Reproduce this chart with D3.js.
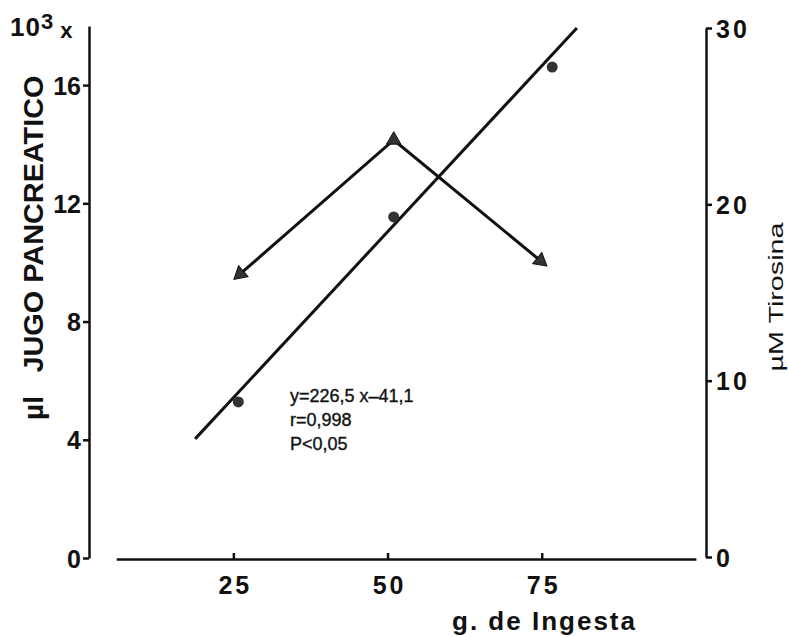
<!DOCTYPE html>
<html>
<head>
<meta charset="utf-8">
<script src="https://cdn.jsdelivr.net/npm/d3@7"></script>
<style>
  body { margin: 0; background: #fff; }
  svg { display: block; font-family: "Liberation Sans", Arial, Helvetica, sans-serif; }
  .axis path, .axis line { stroke: #111; stroke-width: 2.5px; }
  .axis text { fill: #111; font-weight: bold; font-size: 25px; }
</style>
</head>
<body>
<script>
const w = 788;
const h = 637;

// g. de Ingesta vs µl jugo pancreático (x10^3), circles
const ingesta = [25.8, 51.0, 76.7];
const jugo = [5.28, 11.54, 16.61];

// regression line drawn on the figure (ends)
const regIngesta = [18.8, 80.7];
const regJugo = [4.03, 17.93];

// µM tirosina, triangles
const tirIngesta = [26.1, 51.0, 74.8];
const tirosina = [16.05, 23.65, 16.8];

const xTicks = [25, 50, 75];
const leftTicks = [0, 4, 8, 12, 16];
const rightTicks = [0, 10, 20, 30];
const notes = ["y=226,5 x\u201341,1", "r=0,998", "P<0,05"];

const svg = d3.select("body").append("svg").attr("width", w).attr("height", h);

const xScale = d3.scaleLinear().domain([6, 100]).range([116.2, 695.9]);
const yLeft = d3.scaleLinear().domain([0, 18]).range([558, 26]);
const yRight = d3.scaleLinear().domain([0, 30]).range([557, 28]);

// left axis
const leftAxis = d3.axisLeft(yLeft).tickValues(leftTicks).tickSize(6).tickSizeOuter(0).tickPadding(2);
const gl = svg.append("g").attr("class", "axis").attr("transform", "translate(89,0)").call(leftAxis);
gl.selectAll("text").attr("dy", "0.36em");

// right axis
const rightAxis = d3.axisRight(yRight).tickValues(rightTicks).tickSize(6).tickSizeOuter(0).tickPadding(4);
const gr = svg.append("g").attr("class", "axis").attr("transform", "translate(706,0)").call(rightAxis);
gr.selectAll("text").attr("dy", "0.36em").style("font-size", "25px").style("letter-spacing", "3px");

// bottom axis, ticks pointing up
const xAxis = d3.axisBottom(xScale).tickValues(xTicks).tickSize(-6).tickSizeOuter(0).tickPadding(17);
const gx = svg.append("g").attr("class", "axis").attr("transform", "translate(0,559)").call(xAxis);
gx.selectAll("text").style("letter-spacing", "3px").attr("dx", 1.5);

// axis titles
svg.append("text")
  .attr("transform", "translate(43,224) rotate(-90)")
  .attr("text-anchor", "middle")
  .style("font-size", "28px").style("font-weight", "bold").attr("fill", "#111")
  .attr("textLength", 297).attr("lengthAdjust", "spacingAndGlyphs")
  .text("JUGO PANCREATICO");
svg.append("text")
  .attr("transform", "translate(43,408) rotate(-90)")
  .attr("text-anchor", "middle")
  .style("font-size", "28px").style("font-weight", "bold").attr("fill", "#111")
  .text("\u00b5l");

const unitLabel = svg.append("text").attr("x", 10).attr("y", 36).attr("fill", "#111").style("font-weight", "bold");
unitLabel.append("tspan").style("font-size", "26px").style("letter-spacing", "1px").text("10");
unitLabel.append("tspan").attr("dy", -7).style("font-size", "22px").text("3");
unitLabel.append("tspan").attr("dx", 7).attr("dy", 9).style("font-size", "22px").text("x");

svg.append("text")
  .attr("transform", "translate(783,297) rotate(-90)")
  .attr("text-anchor", "middle")
  .style("font-size", "21px").attr("fill", "#111")
  .attr("textLength", 149).attr("lengthAdjust", "spacingAndGlyphs")
  .text("\u00b5M Tirosina");

svg.append("text")
  .attr("x", 635).attr("y", 630)
  .attr("text-anchor", "end")
  .style("font-size", "26px").style("font-weight", "bold").attr("fill", "#111")
  .attr("textLength", 183).attr("lengthAdjust", "spacing")
  .text("g. de Ingesta");

// regression line
svg.append("line")
  .attr("x1", xScale(regIngesta[0])).attr("y1", yLeft(regJugo[0]))
  .attr("x2", xScale(regIngesta[1])).attr("y2", yLeft(regJugo[1]))
  .attr("stroke", "#111").attr("stroke-width", 3);

svg.selectAll("circle.pt")
  .data(ingesta)
  .enter()
  .append("circle")
  .attr("class", "pt")
  .attr("cx", (d) => xScale(d))
  .attr("cy", (d, i) => yLeft(jugo[i]))
  .attr("r", 5.5)
  .attr("fill", "#333");

// tirosina line
const tirPts = tirIngesta.map((d, i) => [xScale(d), yRight(tirosina[i])]);
svg.append("path")
  .attr("d", d3.line()(tirPts))
  .attr("fill", "none")
  .attr("stroke", "#111")
  .attr("stroke-width", 3)
  .attr("stroke-linejoin", "miter");

// triangle markers, the end ones point along the line
function markerAngle(i) {
  if (i === 1) return 0;
  const a = tirPts[i];
  const b = tirPts[1];
  return (Math.atan2(a[1] - b[1], a[0] - b[0]) * 180) / Math.PI + 90;
}
svg.selectAll("path.tri")
  .data(tirPts)
  .enter()
  .append("path")
  .attr("class", "tri")
  .attr("d", d3.symbol(d3.symbolTriangle, 90))
  .attr("transform", (d, i) => `translate(${d[0]},${d[1]}) rotate(${markerAngle(i)})`)
  .attr("fill", "#333")
  .attr("stroke", "#111")
  .attr("stroke-width", 1);

// regression note
svg.selectAll("text.note")
  .data(notes)
  .enter()
  .append("text")
  .attr("class", "note")
  .attr("x", 290)
  .attr("y", (d, i) => 402 + i * 24)
  .style("font-size", "18px")
  .attr("fill", "#111")
  .attr("stroke", "#111")
  .attr("stroke-width", 0.35)
  .text((d) => d);
</script>
</body>
</html>
